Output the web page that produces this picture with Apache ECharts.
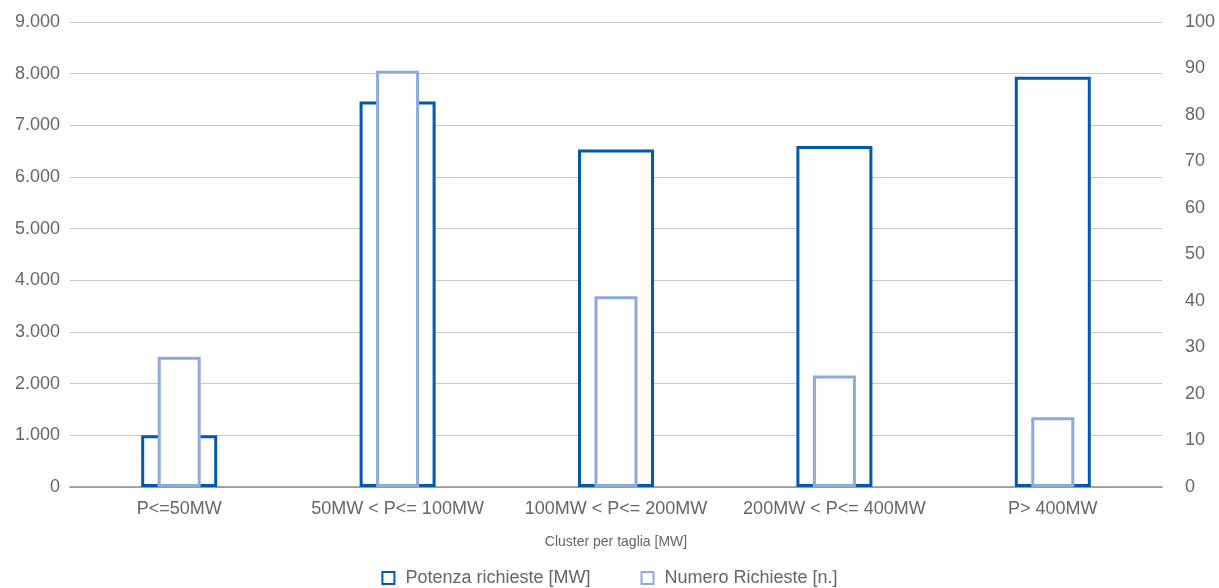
<!DOCTYPE html>
<html>
<head>
<meta charset="utf-8">
<script src="https://cdn.jsdelivr.net/npm/echarts@6/dist/echarts.min.js"></script>
<style>
html,body{margin:0;padding:0;background:#fff;}
#chart{width:1219px;height:588px;}
</style>
</head>
<body>
<div id="chart"></div>
<script>
const categories = ['P<=50MW', '50MW < P<= 100MW', '100MW < P<= 200MW', '200MW < P<= 400MW', 'P> 400MW'];
const potenzaRichieste = [1000, 7460, 6530, 6600, 7940];
const numeroRichieste = [28, 89.5, 41, 24, 15];
const seriesNames = ['Potenza richieste [MW]', 'Numero Richieste [n.]'];
const xAxisName = 'Cluster per taglia [MW]';

const DARK = '#005bac';
const LIGHT = '#8ea9db';
const TEXT = '#666666';
const FONT = 'Liberation Sans, Arial, sans-serif';

function itFormat(v) {
  const s = String(Math.round(v));
  return s.replace(/\B(?=(\d{3})+(?!\d))/g, '.');
}

const chart = echarts.init(document.getElementById('chart'), null, {renderer: 'canvas'});
chart.setOption({
  animation: false,
  backgroundColor: '#ffffff',
  textStyle: {fontFamily: FONT},
  grid: {left: 70, right: 57, top: 22, bottom: 101},
  legend: {
    top: 564,
    left: 'center',
    icon: 'rect',
    itemWidth: 12,
    itemHeight: 12,
    itemGap: 50,
    textStyle: {color: TEXT, fontSize: 18, fontFamily: FONT, padding: [0, 0, 0, 6]},
    data: seriesNames
  },
  xAxis: [
    {
      type: 'category',
      data: categories,
      name: xAxisName,
      nameLocation: 'middle',
      nameGap: 48,
      nameTextStyle: {color: TEXT, fontSize: 14, fontFamily: FONT},
      axisLine: {show: true, lineStyle: {color: '#8c8c8c', width: 1.5}},
      axisTick: {show: false},
      axisLabel: {color: TEXT, fontSize: 18, margin: 13, fontFamily: FONT, interval: 0}
    },
    {
      type: 'category',
      data: categories,
      show: false
    }
  ],
  yAxis: [
    {
      type: 'value',
      min: 0,
      max: 9000,
      interval: 1000,
      axisLine: {show: false},
      axisTick: {show: false},
      splitLine: {show: true, lineStyle: {color: '#c8c8c8', width: 1}},
      axisLabel: {color: TEXT, fontSize: 18, margin: 10, fontFamily: FONT, formatter: itFormat}
    },
    {
      type: 'value',
      min: 0,
      max: 100,
      interval: 10,
      position: 'right',
      axisLine: {show: false},
      axisTick: {show: false},
      splitLine: {show: false},
      axisLabel: {color: TEXT, fontSize: 18, margin: 23, fontFamily: FONT}
    }
  ],
  series: [
    {
      name: seriesNames[0],
      type: 'bar',
      xAxisIndex: 0,
      yAxisIndex: 0,
      barWidth: 76,
      data: potenzaRichieste,
      itemStyle: {color: '#ffffff', borderColor: DARK, borderWidth: 3}
    },
    {
      name: seriesNames[1],
      type: 'bar',
      xAxisIndex: 1,
      yAxisIndex: 1,
      barWidth: 43,
      data: numeroRichieste,
      itemStyle: {color: '#ffffff', borderColor: LIGHT, borderWidth: 3}
    }
  ]
});
</script>
</body>
</html>
